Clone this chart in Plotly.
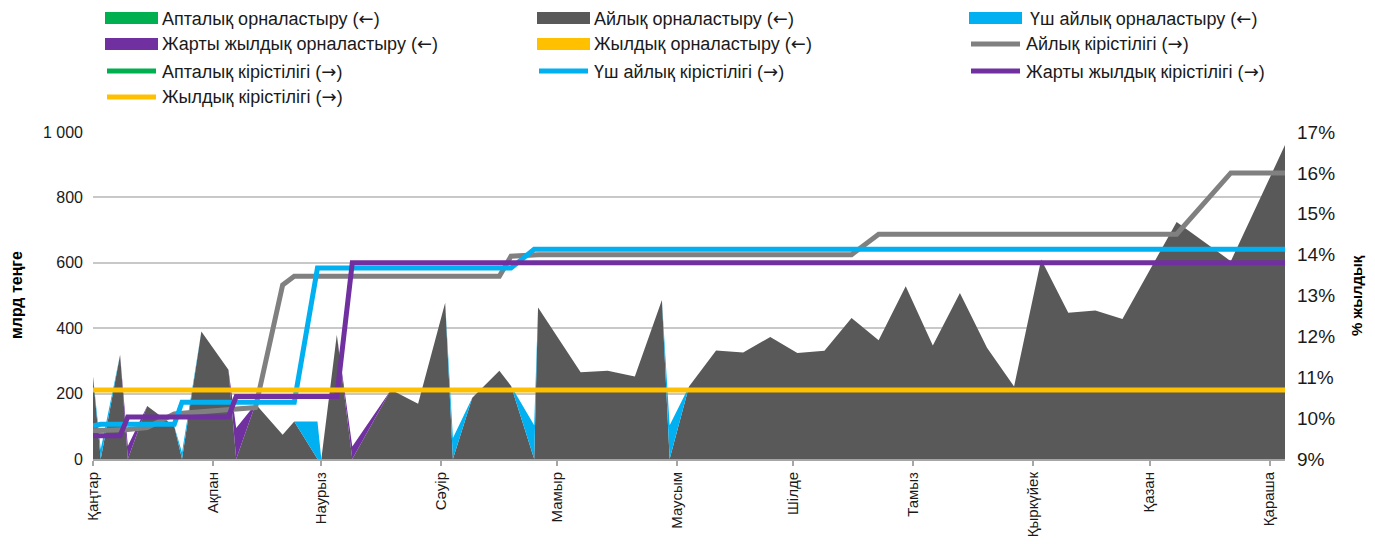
import plotly.graph_objects as go

# ---------------- data ----------------
dates = ["2019-01-01", "2019-01-03", "2019-01-08", "2019-01-10", "2019-01-15", "2019-01-22",
         "2019-01-24", "2019-01-29", "2019-02-05", "2019-02-07", "2019-02-12", "2019-02-19",
         "2019-02-22", "2019-02-28", "2019-03-01", "2019-03-05", "2019-03-09", "2019-03-19",
         "2019-03-26", "2019-04-02", "2019-04-04", "2019-04-09", "2019-04-16", "2019-04-19",
         "2019-04-25", "2019-04-26", "2019-05-07", "2019-05-14", "2019-05-21", "2019-05-28",
         "2019-05-30", "2019-06-04", "2019-06-11", "2019-06-18", "2019-06-25", "2019-07-02",
         "2019-07-09", "2019-07-16", "2019-07-23", "2019-07-30", "2019-08-06", "2019-08-13",
         "2019-08-20", "2019-08-27", "2019-09-03", "2019-09-10", "2019-09-17", "2019-09-24",
         "2019-10-08", "2019-10-22", "2019-11-05"]

# placements, bn tenge (left axis)
monthly_vol = [252, 0, 319, 0, 162, 100, 0, 390, 273, 0, 168, 74,
               115, 0, 0, 380, 0, 212, 169, 478, 0, 187, 270, 224,
               0, 463, 265, 270, 252, 486, 0, 222, 332, 326, 373, 324,
               331, 431, 363, 528, 347, 508, 340, 222, 610, 447, 454, 428,
               725, 605, 960]
three_month_vol = [0, 30, 0, 0, 0, 0, 20, 0, 0, 0, 0, 0,
                   0, 115, 0, 0, 0, 0, 0, 0, 64, 0, 0, 0,
                   103, 0, 0, 0, 0, 0, 103, 0, 0, 0, 0, 0,
                   0, 0, 0, 0, 0, 0, 0, 0, 0, 0, 0, 0,
                   0, 0, 0]
half_year_vol = [0, 0, 0, 40, 0, 0, 0, 0, 0, 95, 0, 0,
                 0, 0, 0, 0, 38, 0, 0, 0, 0, 0, 0, 0,
                 0, 0, 0, 0, 0, 0, 0, 0, 0, 0, 0, 0,
                 0, 0, 0, 0, 0, 0, 0, 0, 0, 0, 0, 0,
                 0, 0, 0]

# yields, % (right axis)
monthly_yld = [9.69, 9.69, 9.69, 9.72, 9.77, 10.10, 10.12, 10.15, 10.20, 10.21, 10.26, 13.26,
               13.47, 13.47, 13.47, 13.47, 13.47, 13.47, 13.47, 13.47, 13.47, 13.47, 13.47, 13.96,
               13.98, 14.00, 14.00, 14.00, 14.00, 14.00, 14.00, 14.00, 14.00, 14.00, 14.00, 14.00,
               14.00, 14.00, 14.50, 14.50, 14.50, 14.50, 14.50, 14.50, 14.50, 14.50, 14.50, 14.50,
               14.50, 16.00, 16.00]
three_month_yld = [9.81, 9.85, 9.85, 9.85, 9.85, 9.85, 10.39, 10.39, 10.39, 10.39, 10.39, 10.39,
                   10.39, 13.67, 13.67, 13.67, 13.67, 13.67, 13.67, 13.67, 13.67, 13.67, 13.67, 13.67,
                   14.13, 14.13, 14.13, 14.13, 14.13, 14.13, 14.13, 14.13, 14.13, 14.13, 14.13, 14.13,
                   14.13, 14.13, 14.13, 14.13, 14.13, 14.13, 14.13, 14.13, 14.13, 14.13, 14.13, 14.13,
                   14.13, 14.13, 14.13]
half_year_yld = [9.57, 9.57, 9.57, 10.03, 10.03, 10.03, 10.03, 10.03, 10.03, 10.53, 10.53, 10.53,
                 10.53, 10.53, 10.53, 10.53, 13.80, 13.80, 13.80, 13.80, 13.80, 13.80, 13.80, 13.80,
                 13.80, 13.80, 13.80, 13.80, 13.80, 13.80, 13.80, 13.80, 13.80, 13.80, 13.80, 13.80,
                 13.80, 13.80, 13.80, 13.80, 13.80, 13.80, 13.80, 13.80, 13.80, 13.80, 13.80, 13.80,
                 13.80, 13.80, 13.80]
annual_yld = [10.69] * len(dates)

month_ticks = ["2019-01-01", "2019-02-01", "2019-03-01", "2019-04-01", "2019-05-01", "2019-06-01",
               "2019-07-01", "2019-08-01", "2019-09-01", "2019-10-01", "2019-11-01"]
month_labels = ["Қаңтар", "Ақпан", "Наурыз", "Сәуір", "Мамыр", "Маусым",
                "Шілде", "Тамыз", "Қыркүйек", "Қазан", "Қараша"]

legend_names = ["Апталық орналастыру (←)", "Айлық орналастыру (←)", "Үш айлық орналастыру (←)",
                "Жарты жылдық орналастыру (←)", "Жылдық орналастыру (←)", "Айлық кірістілігі (→)",
                "Апталық кірістілігі (→)", "Үш айлық кірістілігі (→)", "Жарты жылдық кірістілігі (→)",
                "Жылдық кірістілігі (→)"]

# ---------------- style ----------------
GREEN, DGREY, BLUE, PURPLE, YELLOW, LGREY = "#00B050", "#595959", "#00B0F0", "#7030A0", "#FFC000", "#808080"
FONT = "Liberation Sans, Arial, sans-serif"
OFF = 8                      # page body margin of the browser
W, H = 1375 - 2 * OFF, 544 - 2 * OFF
# plot area in reference pixels: x 93..1285, y 132..459
PX0, PX1, PY0, PY1 = 93, 1285, 132, 459
L, T = PX0 - OFF, PY0 - OFF
R, B = W - (PX1 - OFF), H - (PY1 - OFF)
PW, PH = PX1 - PX0, PY1 - PY0

fig = go.Figure()

for vals, col in [(monthly_vol, DGREY), (three_month_vol, BLUE), (half_year_vol, PURPLE)]:
    fig.add_trace(go.Scatter(x=dates, y=vals, stackgroup="vol", mode="none",
                             fillcolor=col, line=dict(width=0), showlegend=False,
                             hoverinfo="skip"))

for vals, col in [(monthly_yld, LGREY), (three_month_yld, BLUE), (half_year_yld, PURPLE), (annual_yld, YELLOW)]:
    fig.add_trace(go.Scatter(x=dates, y=vals, yaxis="y2", mode="lines",
                             line=dict(color=col, width=5), showlegend=False, hoverinfo="skip"))

# ---------------- custom legend (reference pixel coords) ----------------
def xp(px):
    return (px - PX0) / PW

def yp(py):
    return (PY1 - py) / PH

ARROW = "<span style='font-family:DejaVu Sans'>{}</span>"

legend_kind = ["area", "area", "area", "area", "area", "line", "line", "line", "line", "line"]
legend_col = [GREEN, DGREY, BLUE, PURPLE, YELLOW, LGREY, GREEN, BLUE, PURPLE, YELLOW]
col_x = [105, 537, 969]
row_y = [18, 44, 71, 97]
shapes = []
annotations = []
for i, name in enumerate(legend_names):
    cx = col_x[i % 3]
    ry = row_y[i // 3]
    if legend_kind[i] == "area":
        shapes.append(dict(type="rect", xref="paper", yref="paper",
                           x0=xp(cx), x1=xp(cx + 53), y0=yp(ry + 6), y1=yp(ry - 6),
                           fillcolor=legend_col[i], line=dict(width=0)))
    else:
        shapes.append(dict(type="line", xref="paper", yref="paper",
                           x0=xp(cx + 2), x1=xp(cx + 51), y0=yp(ry), y1=yp(ry),
                           line=dict(color=legend_col[i], width=5)))
    tx = cx + 55 + (4 if i == 2 else 0)
    txt = name.replace("←", ARROW.format("←")).replace("→", ARROW.format("→"))
    annotations.append(dict(text=txt, xref="paper", yref="paper", x=xp(tx), y=yp(ry),
                            xanchor="left", yanchor="middle", showarrow=False,
                            font=dict(family=FONT, size=18, color="#1a1a1a")))

# axis titles
annotations.append(dict(text="<b>млрд теңге</b>", xref="paper", yref="paper",
                        x=xp(16), y=yp(295), textangle=-90, showarrow=False,
                        xanchor="center", yanchor="middle",
                        font=dict(family=FONT, size=16, color="#000")))
annotations.append(dict(text="<b>% жылдық</b>", xref="paper", yref="paper",
                        x=xp(1356), y=yp(295), textangle=-90, showarrow=False,
                        xanchor="center", yanchor="middle",
                        font=dict(family=FONT, size=15, color="#000")))

fig.update_layout(
    width=W, height=H,
    margin=dict(l=L, r=R, t=T, b=B, pad=0, autoexpand=False),
    paper_bgcolor="white", plot_bgcolor="white",
    separators=", ",
    showlegend=False,
    font=dict(family=FONT, size=16, color="#1a1a1a"),
    shapes=shapes, annotations=annotations,
    xaxis=dict(type="date", range=["2019-01-01", "2019-11-05"], automargin=False,
               tickvals=month_ticks, ticktext=month_labels, tickangle=-90,
               ticks="outside", ticklen=5, tickcolor="#a6a6a6", tickwidth=1.5,
               showline=True, linecolor="#a6a6a6", linewidth=2,
               showgrid=False, zeroline=False,
               tickfont=dict(family=FONT, size=15, color="#1a1a1a")),
    yaxis=dict(range=[0, 1000], dtick=200, tickformat=",d", automargin=False,
               showgrid=True, gridcolor="#c8c8c8", gridwidth=1.5,
               zeroline=False, showline=False, ticks="", ticklabelstandoff=9,
               tickfont=dict(family=FONT, size=16, color="#1a1a1a")),
    yaxis2=dict(range=[9, 17], dtick=1, ticksuffix="%", overlaying="y", side="right",
                automargin=False, ticklabelstandoff=11,
                showgrid=False, zeroline=False, showline=False, ticks="",
                tickfont=dict(family=FONT, size=19, color="#1a1a1a")),
)

fig.write_html("out.html")
